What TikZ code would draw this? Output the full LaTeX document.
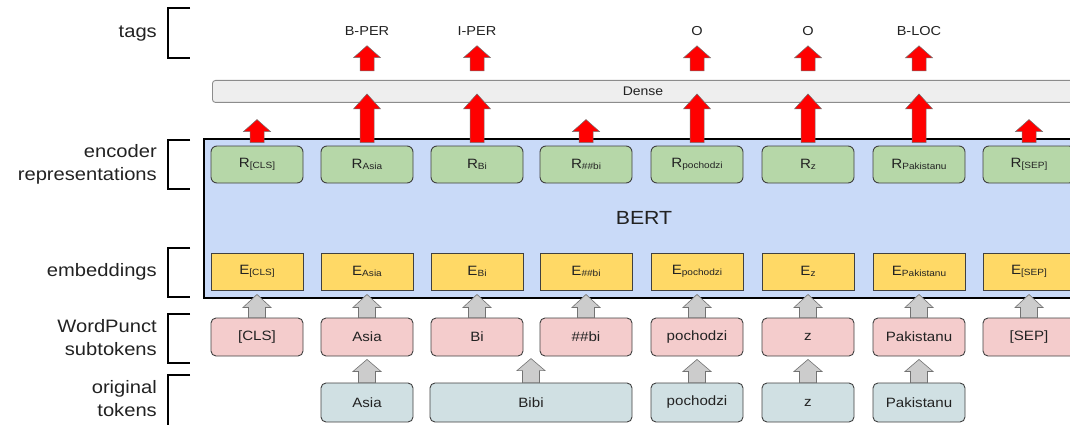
\documentclass[tikz,border=0pt]{standalone}
\usepackage{fontspec}
\setmainfont{Liberation Sans}[FakeStretch=1.12]
\usetikzlibrary{calc}
\definecolor{bertblue}{HTML}{C9DAF8}
\definecolor{rgreen}{HTML}{B6D7A8}
\definecolor{eyellow}{HTML}{FFD966}
\definecolor{spink}{HTML}{F4CCCC}
\definecolor{oteal}{HTML}{D0E0E3}
\definecolor{densegray}{HTML}{EEEEEE}
\definecolor{txt}{HTML}{222222}
\newcommand\sub[1]{\raisebox{-0.8pt}{\fontsize{9}{9}\selectfont #1}}
% block arrow: #1 style, #2 base point, #3 tip point, #4 head half width, #5 shaft half width, #6 head height
\newcommand\barrow[6]{%
  \draw[#1] ($(#2)+(-#5,0)$) -- ($(#3)+(-#5,#6)$) -- ($(#3)+(-#4,#6)$) -- (#3)
    -- ($(#3)+(#4,#6)$) -- ($(#3)+(#5,#6)$) -- ($(#2)+(#5,0)$) -- cycle;}
\begin{document}
\begin{tikzpicture}[x=1pt,y=-1pt,
  every node/.style={text=txt, inner sep=0pt},
  lbl/.style={font=\fontsize{18}{23}\selectfont, align=right, anchor=east},
  brk/.style={draw=black, line width=1.8pt},
  rbox/.style={draw=black!75, line width=0.9pt, fill=rgreen, rounded corners=6pt,
     minimum width=92pt, minimum height=37pt, font=\fontsize{13.5}{13.5}\selectfont},
  ebox/.style={draw=black!75, line width=0.9pt, fill=eyellow,
     minimum width=92pt, minimum height=37pt, font=\fontsize{13.5}{13.5}\selectfont},
  pbox/.style={draw=black!75, line width=0.9pt, fill=spink, rounded corners=5pt,
     minimum width=92pt, minimum height=38pt, font=\fontsize{13.5}{13.5}\selectfont},
  tbox/.style={draw=black!75, line width=0.9pt, fill=oteal, rounded corners=5pt,
     minimum width=92pt, minimum height=39pt, font=\fontsize{13.5}{13.5}\selectfont},
  tag/.style={font=\fontsize{13}{13}\selectfont},
  redarr/.style={fill=red, draw=black!55, line width=0.5pt, line join=miter},
  grayarr/.style={fill=black!20, draw=black!55, line width=0.6pt, line join=miter}
]
\useasboundingbox (0,0) rectangle (1070,425);
\clip (0,0) rectangle (1070,425);

% left labels and brackets
\node[lbl] (Ltags) at (157,34) {tags};
\node[lbl] (Lenc) at (157,164) {encoder\\representations};
\node[lbl] (Lemb) at (157,272) {embeddings};
\node[lbl] (Lsub) at (157,338) {WordPunct\\subtokens};
\node[lbl] (Lorig) at (157,399) {original\\tokens};
\draw[brk] (190,8) -- (168,8) -- (168,58) -- (190,58);
\draw[brk] (190,140) -- (168,140) -- (168,189) -- (190,189);
\draw[brk] (190,248) -- (168,248) -- (168,297) -- (190,297);
\draw[brk] (190,314) -- (168,314) -- (168,363) -- (190,363);
\draw[brk] (190,375) -- (168,375) -- (168,440);

% BERT and Dense
\node[draw=black, line width=1.8pt, fill=bertblue, minimum width=880pt, minimum height=159pt,
  anchor=north west] (BERT) at (203,138) {};
\node[font=\fontsize{19}{19}\selectfont] (BERTl) at (644,218) {BERT};
\node[draw=black!45, line width=0.9pt, fill=densegray, rounded corners=3pt, minimum width=870pt,
  minimum height=22pt, anchor=north west] (D) at (212,80) {};
\node[font=\fontsize{12.5}{12.5}\selectfont] (Dl) at (643,91) {Dense};

% columns
\foreach \i/\x/\s/\t in {0/257/[CLS]/[CLS], 1/367/Asia/Asia, 2/477/Bi/Bi, 3/586/\#\#bi/\#\#bi,
   4/697/pochodzi/pochodzi, 5/808/z/z, 6/919/Pakistanu/Pakistanu, 7/1029/[SEP]/[SEP]}{
  \node[rbox] (R\i) at (\x,164.5) {R\sub{\s}};
  \node[ebox] (E\i) at (\x,271.5) {E\sub{\s}};
  \node[pbox] (P\i) at (\x,337) {\t};
}

% original tokens
\node[tbox] (O1) at (367,402.5) {Asia};
\node[tbox, minimum width=202pt] (O2) at (531,402.5) {Bibi};
\node[tbox] (O4) at (697,402.5) {pochodzi};
\node[tbox] (O5) at (808,402.5) {z};
\node[tbox] (O6) at (919,402.5) {Pakistanu};

% tags
\node[tag] (T1) at (367,31) {B-PER};
\node[tag] (T2) at (477,31) {I-PER};
\node[tag] (T4) at (697,31) {O};
\node[tag] (T5) at (808,31) {O};
\node[tag] (T6) at (919,31) {B-LOC};

% red arrows
\foreach \i in {1,2,4,5,6}{
  \coordinate (b\i) at ($(R\i.north)+(0,-3)$);
  \coordinate (t\i) at ($(R\i.north |- D.south)+(0,-9)$);
  \barrow{redarr}{b\i}{t\i}{13.5}{7}{15}
  \coordinate (sb\i) at ($(R\i.north |- D.north)+(0,-9)$);
  \coordinate (st\i) at ($(T\i.south)+(0,10)$);
  \barrow{redarr}{sb\i}{st\i}{13.5}{7}{12}
}
\foreach \i in {0,3,7}{
  \coordinate (b\i) at ($(R\i.north)+(0,-3)$);
  \coordinate (t\i) at ($(R\i.north)+(0,-26)$);
  \barrow{redarr}{b\i}{t\i}{13.5}{7}{12}
}

% gray arrows: subtokens -> embeddings
\foreach \i in {0,...,7}{
  \coordinate (gb\i) at (P\i.north);
  \coordinate (gt\i) at ($(E\i.south)+(0,4)$);
  \barrow{grayarr}{gb\i}{gt\i}{14}{8.5}{13}
}
% gray arrows: original -> subtokens
\foreach \i in {1,4,5,6}{
  \coordinate (hb\i) at (O\i.north);
  \coordinate (ht\i) at ($(P\i.south)+(0,3)$);
  \barrow{grayarr}{hb\i}{ht\i}{14}{8.5}{12}
}
\coordinate (hb2) at (O2.north);
\coordinate (ht2) at ($(O2.north)+(0,-24)$);
\barrow{grayarr}{hb2}{ht2}{14}{8.5}{12}
\end{tikzpicture}
\end{document}
